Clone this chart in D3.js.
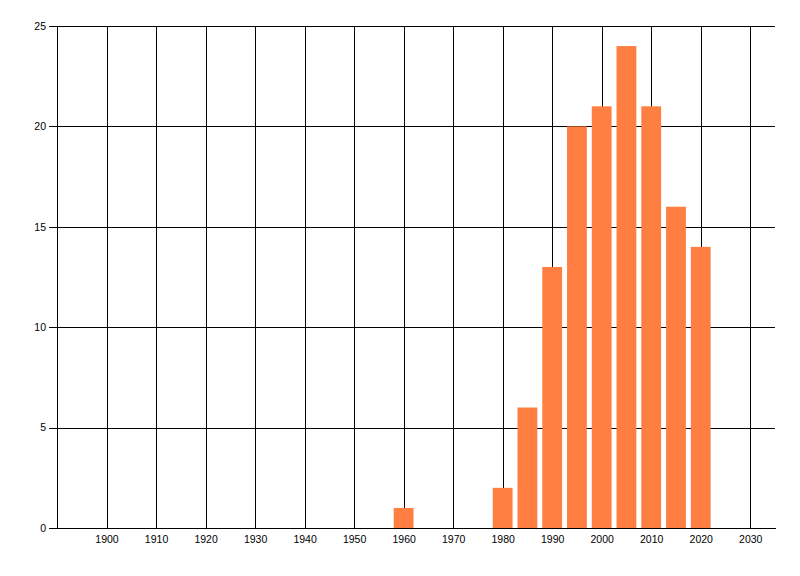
<!DOCTYPE html>
<html>
<head>
<meta charset="utf-8">
<script src="https://cdn.jsdelivr.net/npm/d3@7"></script>
<style>
  body { margin: 0; background: #fff; }
  text { font-family: "Liberation Sans", Arial, sans-serif; font-size: 10.5px; fill: #000; }
  line, path { shape-rendering: crispEdges; }
</style>
</head>
<body>
<div id="chart"></div>
<script>
// data
const years = [1960, 1980, 1985, 1990, 1995, 2000, 2005, 2010, 2015, 2020];
const counts = [1, 2, 6, 13, 20, 21, 24, 21, 16, 14];
const xTicks = [1900, 1910, 1920, 1930, 1940, 1950, 1960, 1970, 1980, 1990, 2000, 2010, 2020, 2030];
const yTicks = [0, 5, 10, 15, 20, 25];

drawChart();
function drawChart() {
  const margin = { top: 26, right: 25, bottom: 48, left: 57 },
    width = 800 - margin.left - margin.right,
    height = 576 - margin.top - margin.bottom;

  const svg = d3.select("#chart")
    .append("svg")
      .attr("width", 800)
      .attr("height", 576)
    .append("g")
      .attr("transform", `translate(${margin.left},${margin.top})`);

  const x = d3.scaleLinear()
    .domain([1890, 2035])
    .range([0, width]);

  const y = d3.scaleLinear()
    .domain([0, 25])
    .range([height, 0]);

  // vertical grid lines
  svg.append("g")
    .selectAll("line")
    .data(xTicks)
    .join("line")
      .attr("x1", d => Math.round(x(d)) + 0.5)
      .attr("x2", d => Math.round(x(d)) + 0.5)
      .attr("y1", 0)
      .attr("y2", height)
      .attr("stroke", "#000");

  // horizontal grid lines
  svg.append("g")
    .selectAll("line")
    .data(yTicks)
    .join("line")
      .attr("x1", 0)
      .attr("x2", width)
      .attr("y1", d => Math.round(y(d)) + 0.5)
      .attr("y2", d => Math.round(y(d)) + 0.5)
      .attr("stroke", "#000");

  // bars, 4 years wide
  svg.append("g")
    .attr("fill", "#ff7f42")
    .selectAll("rect")
    .data(years)
    .join("rect")
      .attr("x", d => x(d - 2))
      .attr("y", (d, i) => y(counts[i]))
      .attr("width", x(4) - x(0))
      .attr("height", (d, i) => y(0) - y(counts[i]));

  // y axis
  const yAxis = svg.append("g")
    .call(d3.axisLeft(y).tickValues(yTicks).tickSize(8).tickPadding(3).tickFormat(d3.format("d")));
  yAxis.select(".domain").attr("stroke", "#000");
  yAxis.selectAll("line").attr("stroke", "#000");
  yAxis.selectAll("text").style("font-size", "10.5px");

  // x axis
  const xAxis = svg.append("g")
    .attr("transform", `translate(0,${height})`)
    .call(d3.axisBottom(x).tickValues(xTicks).tickSize(0).tickPadding(8).tickFormat(d3.format("d")));
  xAxis.select(".domain").attr("stroke", "#000");
  xAxis.selectAll("text").style("font-size", "10.5px");
}
</script>
</body>
</html>
